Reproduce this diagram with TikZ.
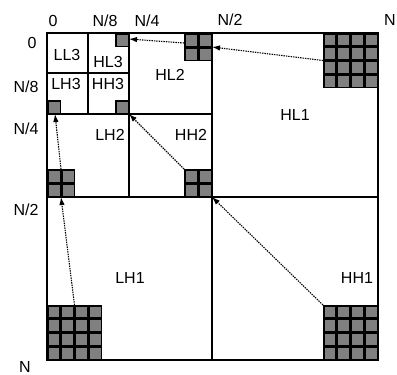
\documentclass[tikz,border=0pt]{standalone}
\usepackage{fontspec}
\setmainfont{Liberation Sans}
\usetikzlibrary{arrows.meta}
\tikzset{
  gridline/.style={line width=1.3pt, line cap=rect},
  blk/.style={fill=black, draw=none, inner sep=0pt, outer sep=0pt, anchor=north west},
  lbl/.style={font=\fontsize{16}{18}\selectfont, inner sep=0pt},
  dotarrow/.style={line width=1.1pt, dash pattern=on 1.4pt off 1pt, -{Latex[length=8pt,width=5.5pt]}},
}
\newcommand\cellgrid[4]{%
  \foreach \i in {1,...,#3}{\foreach \j in {1,...,#3}{
    \fill[black!50] ({#1+(\i-1)*#4+1.5},{#2+(\j-1)*#4+1.5}) rectangle ++({#4-3},{#4-3});}}}
\begin{document}
\begin{tikzpicture}[x=1pt,y=-1pt]
\useasboundingbox (0,0) rectangle (397,375);
% blocks
\node[blk, minimum width=55, minimum height=55] (bHLa) at (323,33) {};
\node[blk, minimum width=55, minimum height=55] (bHHa) at (323,305) {};
\node[blk, minimum width=55, minimum height=55] (bLHa) at (47,305) {};
\node[blk, minimum width=28, minimum height=28] (bHLb) at (184,33) {};
\node[blk, minimum width=28, minimum height=28] (bHHb) at (184,169) {};
\node[blk, minimum width=28, minimum height=28] (bLHb) at (47,169) {};
\node[blk, minimum width=14, minimum height=14] (bHLc) at (115,33) {};
\node[blk, minimum width=14, minimum height=14] (bHHc) at (115,100) {};
\node[blk, minimum width=14, minimum height=14] (bLHc) at (47,100) {};
\cellgrid{323}{33}{4}{13.75}
\cellgrid{323}{305}{4}{13.75}
\cellgrid{47}{305}{4}{13.75}
\cellgrid{184}{33}{2}{14}
\cellgrid{184}{169}{2}{14}
\cellgrid{47}{169}{2}{14}
\cellgrid{115}{33}{1}{14}
\cellgrid{115}{100}{1}{14}
\cellgrid{47}{100}{1}{14}
% grid lines
\draw[gridline] (47,33) rectangle (378,360);
\draw[gridline] (212,33) -- (212,360);
\draw[gridline] (47,197) -- (378,197);
\draw[gridline] (129,33) -- (129,197);
\draw[gridline] (47,114) -- (212,114);
\draw[gridline] (88,33) -- (88,114);
\draw[gridline] (47,73) -- (129,73);
% arrows
\draw[dotarrow] (bHLa.west) -- (bHLb.east);
\draw[dotarrow] ([yshift=4pt]bHLb.west) -- ([yshift=1pt]bHLc.east);
\draw[dotarrow] (bHHb.north west) -- (bHHc.south east);
\draw[dotarrow] (bLHb.north) -- ([xshift=1pt]bLHc.south);
\draw[dotarrow] (bLHa.north) -- (bLHb.south);
\draw[dotarrow] (bHHa.north west) -- (bHHb.south east);
% axis labels
\node[lbl] (t0) at (53,21) {0};
\node[lbl] (t8) at (105,21) {N/8};
\node[lbl] (t4) at (147,21) {N/4};
\node[lbl] (t2) at (230,20) {N/2};
\node[lbl] (tN) at (390,20) {N};
\node[lbl] (l0) at (32,43) {0};
\node[lbl] (l8) at (26,87) {N/8};
\node[lbl] (l4) at (26,129) {N/4};
\node[lbl] (l2) at (26,210) {N/2};
\node[lbl] (lN) at (25,367) {N};
% subband labels
\node[lbl] (nLL3) at (67,55) {LL3};
\node[lbl] (nHL3) at (108,62) {HL3};
\node[lbl] (nLH3) at (66,84) {LH3};
\node[lbl] (nHH3) at (108,84) {HH3};
\node[lbl] (nHL2) at (170,75) {HL2};
\node[lbl] (nHL1) at (295,115) {HL1};
\node[lbl] (nLH2) at (110,135) {LH2};
\node[lbl] (nHH2) at (191,135) {HH2};
\node[lbl] (nLH1) at (130,278) {LH1};
\node[lbl] (nHH1) at (357,278) {HH1};
\end{tikzpicture}
\end{document}
